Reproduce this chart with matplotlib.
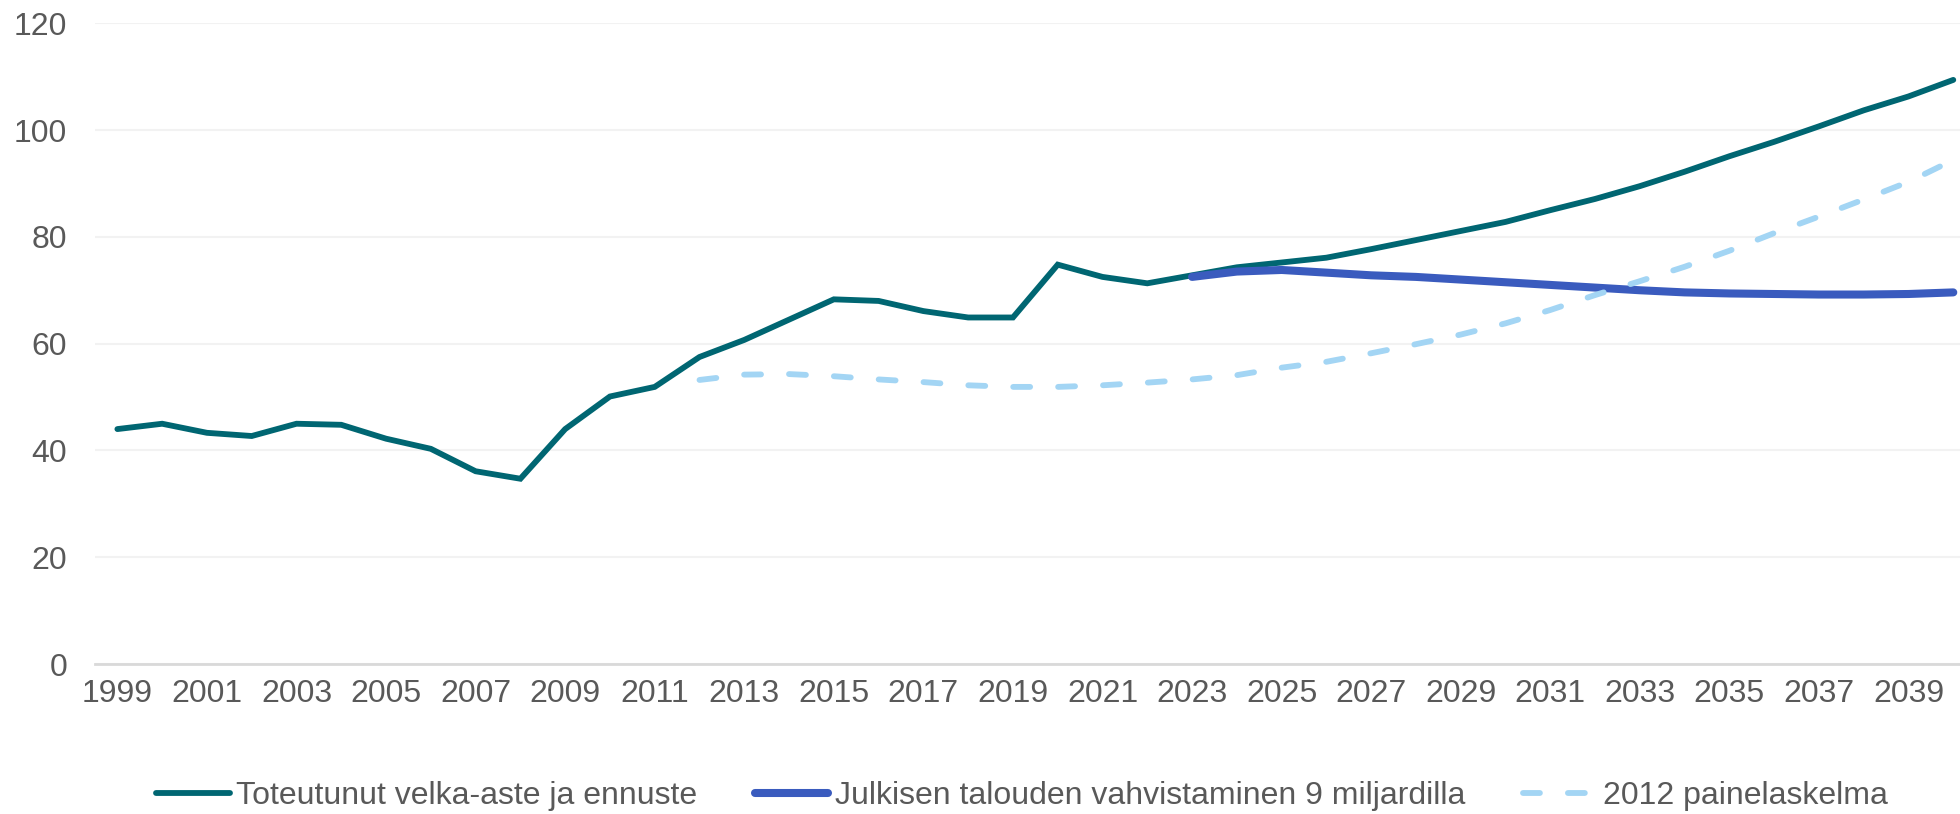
import matplotlib
matplotlib.use("Agg")
import matplotlib.pyplot as plt

plt.rcParams['font.family'] = ['Liberation Sans', 'DejaVu Sans']

# data
years = list(range(1999, 2041))
actual = [44.0, 45.0, 43.3, 42.7, 45.0, 44.8, 42.2, 40.3, 36.1, 34.7,
          44.0, 50.1, 51.9, 57.5, 60.7, 64.5, 68.3, 68.0, 66.1, 64.9,
          64.9, 74.8, 72.5, 71.3, 72.8, 74.3, 75.2, 76.1, 77.7, 79.4,
          81.1, 82.8, 85.0, 87.1, 89.5, 92.2, 95.1, 97.8, 100.7, 103.7,
          106.3, 109.4]
adjust_years = list(range(2023, 2041))
adjust = [72.5, 73.5, 73.8, 73.3, 72.8, 72.5, 72.0, 71.5, 71.0, 70.5,
          70.0, 69.6, 69.4, 69.3, 69.2, 69.2, 69.3, 69.6]
calc_years = list(range(2012, 2041))
calc2012 = [53.2, 54.2, 54.3, 53.9, 53.3, 52.8, 52.2, 51.9, 51.9, 52.2,
            52.7, 53.3, 54.1, 55.5, 56.6, 58.2, 59.9, 61.7, 63.8, 66.3,
            69.1, 71.7, 74.4, 77.4, 80.7, 83.8, 87.0, 90.3, 94.4]

labels = ["Toteutunut velka-aste ja ennuste",
          "Julkisen talouden vahvistaminen 9 miljardilla",
          "2012 painelaskelma"]

fig = plt.figure(figsize=(19.6, 8.14), dpi=100)
ax = fig.add_axes([95 / 1960, 150 / 814, 1865 / 1960, 640.7 / 814])

ax.plot(years, actual, color="#006672", lw=4.2, solid_capstyle="round",
        solid_joinstyle="miter", label=labels[0], zorder=3)
ax.plot(adjust_years, adjust, color="#3A5BBE", lw=5.8, solid_capstyle="round",
        label=labels[1], zorder=4)
ax.plot(calc_years, calc2012, color="#A3D5F4", lw=4.2, linestyle=(0, (2.9, 4.8)),
        dash_capstyle="round", label=labels[2], zorder=5)

ax.set_xlim(1998.5, 2040.15)
ax.set_ylim(0, 120)
ax.set_yticks(range(0, 121, 20))
ax.set_xticks(years[::2])

ax.grid(axis="y", color="#F2F2F2", lw=1.5)
ax.set_axisbelow(True)
for s in ["top", "right", "left"]:
    ax.spines[s].set_visible(False)
ax.spines["bottom"].set_color("#D9D9D9")
ax.spines["bottom"].set_linewidth(2)
ax.spines["bottom"].set_zorder(1)

ax.tick_params(axis="both", length=0, labelsize=23, labelcolor="#595959")
ax.tick_params(axis="y", pad=20)
ax.tick_params(axis="x", pad=11)

fig.legend(loc="center", bbox_to_anchor=(0.5214, 1 - 796 / 814), ncol=3,
           frameon=False, fontsize=23, labelcolor="#595959",
           handlelength=2.3, handletextpad=0.2, columnspacing=1.8)

plt.savefig("out.png", dpi=100)
